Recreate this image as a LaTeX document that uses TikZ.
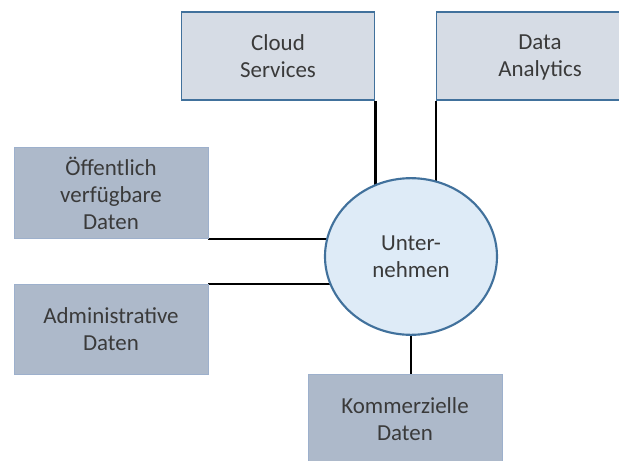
\documentclass[tikz,border=0pt]{standalone}
\usepackage{fontspec}
\setmainfont{Carlito}
\usetikzlibrary{shapes.geometric,backgrounds}
\definecolor{boxlight}{HTML}{D6DCE5}
\definecolor{boxdark}{HTML}{ADB9CA}
\definecolor{rimblue}{HTML}{41719C}
\definecolor{rimpale}{HTML}{9DB0CC}
\definecolor{firmfill}{HTML}{DEEBF7}
\definecolor{txtgray}{HTML}{3A3A3A}

\begin{document}
\begin{tikzpicture}[x=0.75pt,y=-0.75pt,
  lightbox/.style={draw=rimblue,line width=1.2pt,fill=boxlight,minimum width=145pt,minimum height=66pt,inner sep=0pt,align=center,text=txtgray,text depth=0pt},
  darkbox/.style={draw=rimpale,line width=0.6pt,fill=boxdark,minimum width=145.5pt,minimum height=68pt,inner sep=0pt,align=center,text=txtgray},
  firm/.style={ellipse,draw=rimblue,line width=1.6pt,fill=firmfill,minimum width=129pt,minimum height=117.5pt,inner sep=0pt,align=center,text=txtgray},
  link/.style={line width=1.6pt,black}]
  \useasboundingbox (0,0) rectangle (619,461);
  \fontsize{17.2}{20.3}\selectfont
  \node[lightbox] (cloud) at (278,56) {Cloud\\Services};
  \node[lightbox,minimum width=155pt] (data) at (540,56) {Data\\Analytics};
  \node[darkbox] (oeff) at (111,193) {Öffentlich\\verfügbare\\Daten};
  \node[darkbox] (admin) at (111,329.5) {Administrative\\Daten};
  \node[darkbox] (komm) at (405,419.5) {Kommerzielle\\Daten};
  \node[firm] (firma) at (411,256.5) {Unter-\\nehmen};
  \begin{scope}[on background layer]
    \draw[link] (cloud.south east) -- (cloud.south east |- firma.center);
    \draw[link] (data.south west) -- (data.south west |- firma.center);
    \draw[link] (oeff.south east) -- (oeff.south east -| firma.center);
    \draw[link] (admin.north east) -- (admin.north east -| firma.center);
    \draw[link] (firma.center) -- (firma.center |- komm.north);
  \end{scope}
\end{tikzpicture}
\end{document}
